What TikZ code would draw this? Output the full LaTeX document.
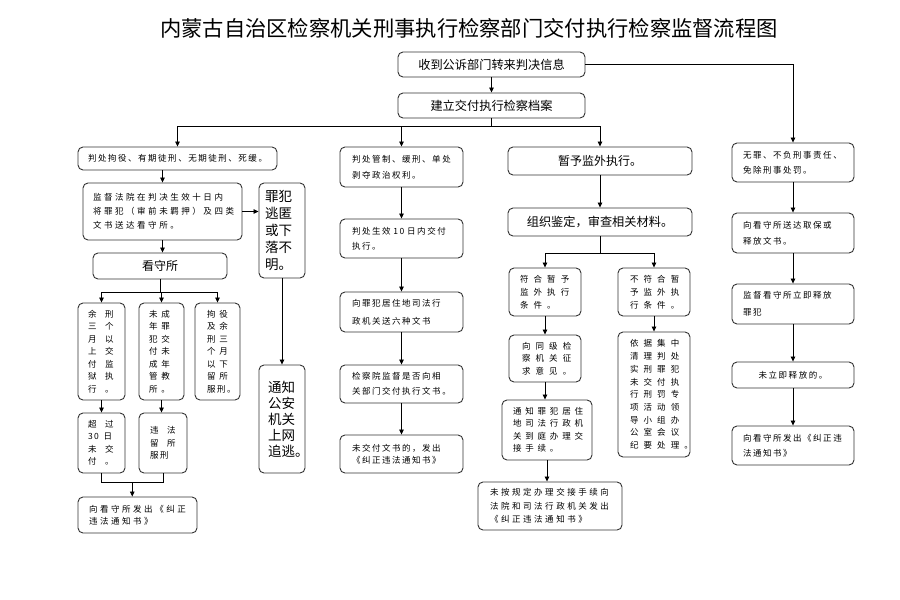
\documentclass[tikz,border=0pt]{standalone}
\usepackage{fontspec}
\setmainfont{Noto Sans CJK SC}
\newfontfamily\lsA[LetterSpace=18]{Noto Sans CJK SC}
\newfontfamily\lsB[LetterSpace=30]{Noto Sans CJK SC}
\newfontfamily\lsC[LetterSpace=45]{Noto Sans CJK SC}
\newfontfamily\lsD[LetterSpace=60]{Noto Sans CJK SC}
\newfontfamily\lsF[LetterSpace=100]{Noto Sans CJK SC}
\usetikzlibrary{arrows.meta,calc}
\newcommand\sm[2]{#1\fontsize{8.5}{#2}\selectfont}
\newcommand\bx[8]{\node[box,font={#7},align=left,text width=\the\numexpr#4-#2-2*#6\relax pt,inner xsep=#6pt,minimum height=\the\numexpr#5-#3\relax pt] (#1) at ({(#2+#4)/2},{(#3+#5)/2}) {#8};}
\newcommand\bxc[7]{\node[box,font={#6},align=center,inner xsep=0pt,minimum width=\the\numexpr#4-#2\relax pt,minimum height=\the\numexpr#5-#3\relax pt] (#1) at ({(#2+#4)/2},{(#3+#5)/2}) {#7};}
\begin{document}
\begin{tikzpicture}[x=1pt,y=-1pt,
  box/.style={draw=black!80,line width=0.9pt,rounded corners=5pt,inner ysep=0pt,fill=white},
  line/.style={draw=black,line width=0.8pt},
  arr/.style={line,-{Triangle[length=5pt,width=4.5pt]}}]
\fill[white] (0,0) rectangle (900,600);
\useasboundingbox (0,0) rectangle (900,600);
\node[font=\fontsize{21.3}{24}\selectfont] (title) at (469,28) {内蒙古自治区检察机关刑事执行检察部门交付执行检察监督流程图};
% top
\bxc{A}{398}{52}{585}{77}{\fontsize{12.2}{14}\selectfont}{收到公诉部门转来判决信息}
\bxc{B}{398}{93}{585}{118}{\fontsize{12.2}{14}\selectfont}{建立交付执行检察档案}
% left column
\bx{L1}{78}{147}{277}{170}{10}{\sm\lsA{14}}{判处拘役、有期徒刑、无期徒刑、死缓。}
\bx{L2}{83}{183}{242}{240}{10}{\sm\lsB{14}}{监督法院在判决生效十日内\\将罪犯（审前未羁押）及四类\\文书送达看守所。}
\bx{L3}{259}{183}{305}{278}{6}{\fontsize{13.5}{17}\selectfont}{罪犯\\逃匿\\或下\\落不\\明。}
\bxc{KS}{93}{253}{227}{279}{\fontsize{12}{14}\selectfont}{看守所}
\bx{K1}{78}{303}{125}{400}{10}{\sm\lsF{12.5}}{余刑\\三个\\月以\\上交\\付监\\狱执\\行。}
\bx{K2}{139}{303}{184}{400}{10}{\sm\lsC{12.5}}{未成\\年罪\\犯交\\付未\\成年\\管教\\所。}
\bx{K3}{195}{303}{240}{400}{12}{\sm\lsC{12.5}}{拘役\\及余\\刑三\\个月\\以下\\留所\\{\lsA 服刑。}}
\bx{K4}{78}{413}{125}{473}{10}{\sm\lsF{12.5}}{超过\\{\lsA 30}\hspace{4.6pt}日\\未交\\付。}
\bx{K5}{139}{413}{187}{473}{11}{\sm\lsF{12.5}}{违法\\留所\\{\lsA 服刑}}
\bx{L4}{259}{365}{305}{473}{9}{\fontsize{13.5}{16}\selectfont}{通知\\公安\\机关\\上网\\追逃。}
\bx{L5}{78}{497}{197}{533}{11}{\sm\lsB{12}}{向看守所发出《纠正\\违法通知书》}
% middle column
\bx{M1}{340}{147}{463}{187}{12}{\sm\lsA{16}}{判处管制、缓刑、单处\\剥夺政治权利。}
\bx{M2}{340}{219}{463}{258}{12}{\sm\lsA{15}}{判处生效~10~日内交付\\执行。}
\bx{M3}{340}{292}{463}{332}{12}{\sm\lsA{18}}{向罪犯居住地司法行\\政机关送六种文书}
\bx{M4}{340}{365}{463}{403}{12}{\sm\lsA{15}}{检察院监督是否向相\\关部门交付执行文书。}
\bx{M5}{340}{435}{463}{473}{12}{\sm\lsA{12}}{未交付文书的，发出\\《纠正违法通知书》}
% right-middle column
\bxc{R1}{508}{147}{692}{175}{\fontsize{12}{14}\selectfont}{暂予监外执行。}
\bxc{R2}{508}{208}{692}{236}{\fontsize{12.2}{14}\selectfont}{组织鉴定，审查相关材料。}
\bx{R3a}{509}{268}{581}{316}{11}{\sm\lsD{13}}{符合暂予\\监外执行\\条件。}
\bx{R3b}{618}{268}{690}{316}{12}{\sm\lsD{13}}{不符合暂\\予监外执\\行条件。}
\bx{R4a}{509}{335}{581}{382}{13}{\sm\lsD{12.5}}{向同级检\\察机关征\\求意见。}
\bx{R5a}{502}{400}{592}{460}{11}{\sm\lsC{12.5}}{通知罪犯居住\\地司法行政机\\关到庭办理交\\接手续。}
\bx{R4b}{618}{332}{690}{457}{12}{\sm\lsD{12.7}}{依据集中\\清理判处\\实刑罪犯\\未交付执\\行刑罚专\\项活动领\\导小组办\\公室会议\\纪要处理。}
\bx{R6}{478}{482}{622}{530}{12}{\sm\lsB{13.5}}{未按规定办理交接手续向\\法院和司法行政机关发出\\《纠正违法通知书》}
% far right column
\bx{F1}{732}{143}{854}{182}{11}{\sm\lsA{15}}{无罪、不负刑事责任、\\免除刑事处罚。}
\bx{F2}{732}{213}{854}{253}{11}{\sm\lsA{16}}{向看守所送达取保或\\释放文书。}
\bx{F3}{732}{284}{854}{324}{11}{\sm\lsA{17}}{监督看守所立即释放\\罪犯}
\bxc{F4}{732}{362}{854}{388}{\sm\lsA{14}}{未立即释放的。}
\bx{F5}{732}{426}{854}{465}{11}{\sm\lsA{15}}{向看守所发出《纠正违\\法通知书》}
% connectors
\draw[arr] (A) -- (B);
\coordinate (h1) at (0,126);
\draw[line] (B.south) -- (B.south |- h1);
\draw[line] (L1.north |- h1) -- (R1.north |- h1);
\draw[arr] (L1.north |- h1) -- (L1.north);
\draw[arr] (M1.north |- h1) -- (M1.north);
\draw[arr] (R1.north |- h1) -- (R1.north);
\draw[arr] (A.east) -| (F1.north);
\draw[arr] (L1.south -| L2.north) -- (L2.north);
\draw[arr] (L2.east) -- (L2.east -| L3.west);
\draw[arr] (L3) -- (L4);
\draw[arr] (L2.south) -- (L2.south |- KS.north);
\coordinate (h2) at (0,292);
\draw[line] (KS.south) -- (KS.south |- h2);
\draw[line] (K1.north |- h2) -- (K3.north |- h2);
\draw[arr] (K1.north |- h2) -- (K1.north);
\draw[arr] (K2.north |- h2) -- (K2.north);
\draw[arr] (K3.north |- h2) -- (K3.north);
\draw[arr] (K1) -- (K4);
\draw[arr] (K2.south) -- (K2.south |- K5.north);
\coordinate (h3) at (0,482);
\draw[line] (K4.south) -- (K4.south |- h3) -- (K5.south |- h3) -- (K5.south);
\coordinate (m3) at ($(K4.south |- h3)!0.5!(K5.south |- h3)$);
\draw[arr] (m3) -- (m3 |- L5.north);
\draw[arr] (M1) -- (M2);
\draw[arr] (M2) -- (M3);
\draw[arr] (M3) -- (M4);
\draw[arr] (M4) -- (M5);
\draw[arr] (R1) -- (R2);
\coordinate (h4) at (0,253);
\draw[line] (R2.south) -- (R2.south |- h4);
\draw[line] (R3a.north |- h4) -- (R3b.north |- h4);
\draw[arr] (R3a.north |- h4) -- (R3a.north);
\draw[arr] (R3b.north |- h4) -- (R3b.north);
\draw[arr] (R3a) -- (R4a);
\draw[arr] (R4a.south) -- (R4a.south |- R5a.north);
\draw[arr] (R5a.south) -- (R5a.south |- R6.north);
\draw[arr] (R3b) -- (R4b);
\draw[arr] (F1) -- (F2);
\draw[arr] (F2) -- (F3);
\draw[arr] (F3) -- (F4);
\draw[arr] (F4) -- (F5);
\end{tikzpicture}
\end{document}
